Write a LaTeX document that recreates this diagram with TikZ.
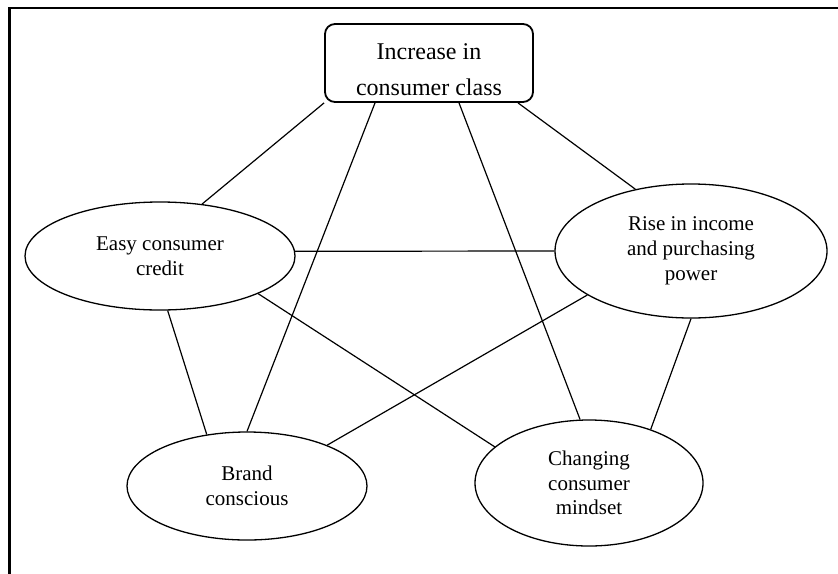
\documentclass[tikz,border=0pt]{standalone}
\usepackage{fontspec}
\setmainfont{Liberation Serif}
\usepackage{tikz}
\usetikzlibrary{shapes.geometric,calc}
\tikzset{
  core/.style={draw, rounded corners=5pt, line width=0.9pt, align=center, inner sep=0pt,
    minimum width=104pt, minimum height=39pt, font=\fontsize{12}{18}\selectfont},
  cause/.style={draw, ellipse, line width=0.65pt, align=center, inner sep=0pt,
    font=\fontsize{10.5}{12.4}\selectfont},
  link/.style={line width=0.6pt},
  frame/.style={line width=1.2pt},
}

\begin{document}
\begin{tikzpicture}[x=0.5pt, y=-0.5pt]
\useasboundingbox (0,0) rectangle (838,573);
\draw[frame] (9.5,8) rectangle (860,600);
% factors
\node[core] (class) at (429,63) {\rule{0pt}{15pt}Increase in\\consumer class};
\node[cause, minimum width=135pt, minimum height=54pt] (credit) at (160,256) {Easy consumer\\credit};
\node[cause, minimum width=136pt, minimum height=67pt] (income) at (691,251) {Rise in income\\and purchasing\\power};
\node[cause, minimum width=120pt, minimum height=54pt] (brand) at (247,486) {Brand\\conscious};
\node[cause, minimum width=114pt, minimum height=63pt] (mindset) at (589,483) {Changing\\consumer\\mindset};
% links
\draw[link] (class.south west) -- (credit.51);
\draw[link] ($(class.south)+(-54,0)$) -- (brand.north);
\draw[link] ($(class.south)+(30,0)$) -- (mindset.98);
\draw[link] ($(class.south)+(89,0)$) -- (income.132);
\draw[link] (credit.2) -- (income.west);
\draw[link] (credit.278) -- (brand.128.5);
\draw[link] (credit.-21) -- (mindset.159);
\draw[link] (income.203) -- (brand.27);
\draw[link] (income.south) -- (mindset.41);
\end{tikzpicture}
\end{document}
